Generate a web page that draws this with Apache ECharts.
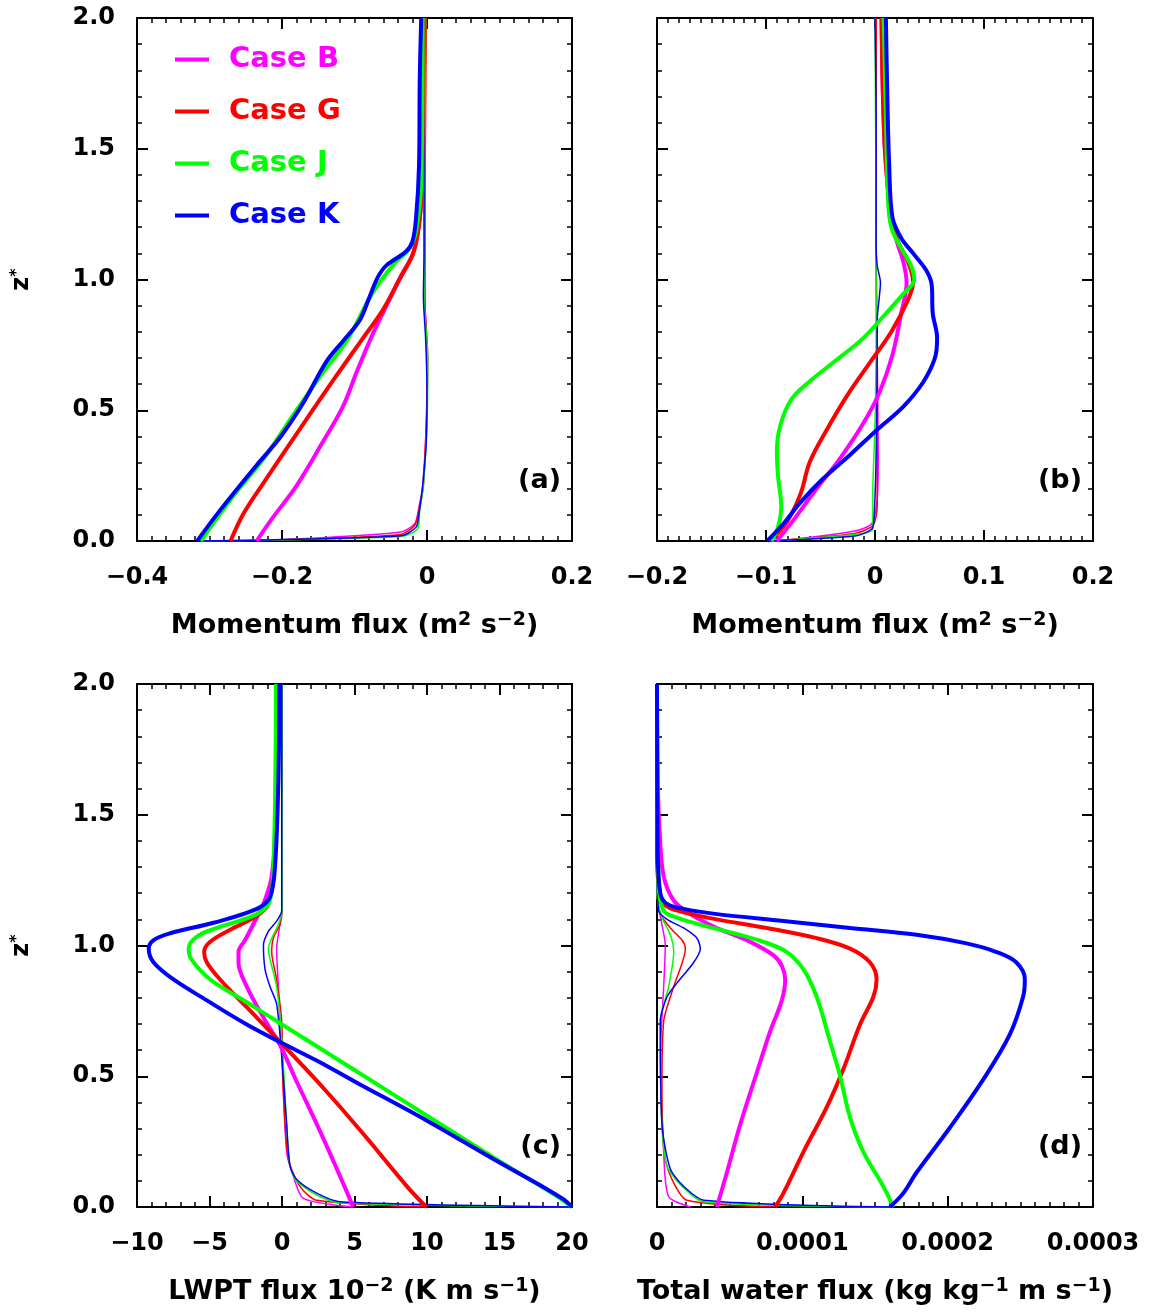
<!DOCTYPE html>
<html>
<head>
<meta charset="utf-8">
<title>Flux profiles</title>
<script src="https://cdn.jsdelivr.net/npm/echarts@6/dist/echarts.min.js"></script>
<style>
html, body { margin: 0; padding: 0; background: #fff; }
#chart { width: 1153px; height: 1316px; }
</style>
</head>
<body>
<div id="chart"></div>
<script>
// each pair is [flux, z*]; "Thin" arrays are the thin companion lines
var caseNames = ['Case B', 'Case G', 'Case J', 'Case K'];
var caseColors = ['#ff00ff', '#ff0000', '#00ff00', '#0000ff'];

// (a) momentum flux
var aB = [[-0.235,0],[-0.212,0.092],[-0.18,0.211],[-0.143,0.382],[-0.116,0.514],[-0.097,0.646],[-0.075,0.79],[-0.052,0.922],[-0.033,1.028],[-0.020,1.094],[-0.013,1.172],[-0.008,1.304],[-0.006,1.634],[-0.005,2]];
var aG = [[-0.271,0],[-0.253,0.105],[-0.225,0.224],[-0.193,0.356],[-0.161,0.487],[-0.125,0.632],[-0.088,0.777],[-0.061,0.883],[-0.038,1.001],[-0.020,1.094],[-0.013,1.172],[-0.008,1.304],[-0.006,1.634],[-0.005,2]];
var aJ = [[-0.312,0],[-0.271,0.158],[-0.225,0.316],[-0.18,0.5],[-0.143,0.646],[-0.111,0.764],[-0.075,0.949],[-0.047,1.054],[-0.024,1.12],[-0.015,1.186],[-0.008,1.37],[-0.006,2]];
var aK = [[-0.317,0],[-0.285,0.119],[-0.235,0.29],[-0.203,0.395],[-0.171,0.527],[-0.139,0.685],[-0.116,0.764],[-0.093,0.843],[-0.079,0.935],[-0.068,1.008],[-0.056,1.054],[-0.029,1.107],[-0.020,1.146],[-0.015,1.238],[-0.011,1.436],[-0.010,1.765],[-0.008,2]];
var aBThin = [[-0.235,0],[-0.038,0.033],[-0.017,0.066],[-0.011,0.132],[-0.006,0.211],[-0.001,0.45],[0,0.7],[-0.003,0.93],[-0.003,1.24],[-0.003,1.6],[-0.002,2]];
var aGThin = [[-0.271,0],[-0.038,0.024],[-0.017,0.059],[-0.011,0.119],[-0.005,0.211],[-0.001,0.45],[0.001,0.7],[-0.003,0.93],[-0.003,1.24],[-0.002,1.6],[-0.001,2]];
var aJThin = [[-0.312,0],[-0.036,0.017],[-0.013,0.046],[-0.010,0.12],[-0.005,0.211],[0,0.45],[0.001,0.7],[-0.004,0.93],[-0.004,1.24],[-0.003,1.6],[-0.002,2]];
var aKThin = [[-0.317,0],[-0.036,0.02],[-0.015,0.053],[-0.011,0.105],[-0.006,0.21],[-0.001,0.38],[0,0.58],[-0.002,0.78],[-0.005,0.935],[-0.004,1.107],[-0.004,1.5],[-0.003,2]];

// (b) momentum flux, other component
var bB = [[-0.090,0],[-0.075,0.079],[-0.054,0.198],[-0.032,0.316],[-0.011,0.448],[0.004,0.567],[0.016,0.711],[0.024,0.87],[0.029,0.988],[0.026,1.067],[0.020,1.146],[0.015,1.238],[0.009,1.502],[0.006,2]];
var bG = [[-0.096,0],[-0.080,0.079],[-0.068,0.184],[-0.060,0.3],[-0.045,0.42],[-0.025,0.56],[-0.005,0.68],[0.015,0.8],[0.030,0.92],[0.035,0.99],[0.030,1.07],[0.021,1.146],[0.015,1.238],[0.009,1.502],[0.006,2]];
var bJ = [[-0.095,0],[-0.089,0.053],[-0.086,0.132],[-0.089,0.25],[-0.090,0.343],[-0.087,0.44],[-0.077,0.54],[-0.060,0.61],[-0.036,0.69],[-0.011,0.775],[0.010,0.87],[0.026,0.945],[0.036,1.0],[0.033,1.054],[0.024,1.12],[0.015,1.199],[0.012,1.304],[0.010,1.634],[0.008,2]];
var bK = [[-0.099,0],[-0.084,0.066],[-0.069,0.145],[-0.048,0.237],[-0.023,0.329],[0.001,0.422],[0.026,0.514],[0.044,0.606],[0.055,0.7],[0.057,0.777],[0.053,0.87],[0.052,0.98],[0.047,1.035],[0.035,1.1],[0.024,1.159],[0.016,1.238],[0.013,1.436],[0.011,1.765],[0.010,2]];
var bBThin = [[-0.090,0],[-0.020,0.037],[-0.003,0.066],[0.002,0.158],[0.003,0.316],[0.002,0.711],[0.001,1.107],[0.001,2]];
var bGThin = [[-0.096,0],[-0.019,0.029],[-0.002,0.059],[0.002,0.132],[0.002,0.316],[0.002,0.711],[0.001,1.107],[0.001,2]];
var bJThin = [[-0.095,0],[-0.017,0.026],[-0.002,0.046],[-0.002,0.184],[0,0.448],[0.001,0.777],[0.001,1.107],[0,2]];
var bKThin = [[-0.099,0],[-0.017,0.02],[-0.003,0.046],[-0.001,0.079],[0.001,0.316],[0.002,0.711],[0.002,0.843],[0.004,0.935],[0.005,0.988],[0.002,1.054],[0.001,1.133],[0.001,1.634],[0,2]];

// (c) LWPT flux, units of 1e-2 K m/s
var cB = [[4.91,0],[4.3,0.08],[2.62,0.29],[1.01,0.48],[-0.14,0.619],[-1.28,0.725],[-2.43,0.843],[-3.0,0.935],[-3.0,0.975],[-2.54,1.021],[-1.74,1.107],[-1.28,1.159],[-0.71,1.265],[-0.41,1.502],[-0.32,2]];
var cG = [[9.95,0],[8.6,0.08],[5.6,0.28],[2.85,0.455],[-0.14,0.632],[-2.43,0.764],[-4.27,0.87],[-5.18,0.935],[-5.37,0.975],[-4.95,1.014],[-3.58,1.06],[-1.74,1.113],[-0.94,1.159],[-0.55,1.304],[-0.37,2]];
var cJ = [[20,0],[19,0.04],[15,0.175],[10,0.349],[5,0.524],[0,0.698],[-2.43,0.783],[-4.95,0.87],[-6.22,0.945],[-6.44,0.988],[-5.87,1.034],[-4.5,1.067],[-1.74,1.12],[-0.83,1.173],[-0.55,1.37],[-0.41,2]];
var cK = [[20,0],[19.4,0.03],[17.75,0.085],[15,0.17],[10,0.33],[5,0.48],[2.39,0.56],[0,0.627],[-2.43,0.698],[-5.18,0.79],[-7.48,0.87],[-8.85,0.935],[-9.19,0.988],[-8.85,1.021],[-7.71,1.047],[-4.72,1.087],[-1.74,1.14],[-0.83,1.186],[-0.48,1.304],[-0.25,1.634],[-0.18,2]];
var cBThin = [[4.91,0],[1.47,0.033],[0.78,0.119],[0.32,0.211],[-0.02,0.579],[-0.25,0.843],[-0.37,0.988],[-0.14,1.08],[0,1.133],[0,2]];
var cGThin = [[9.95,0],[2.39,0.026],[1.24,0.079],[0.44,0.184],[0.09,0.448],[-0.02,0.711],[-0.37,0.87],[-0.71,0.975],[-0.6,1.028],[-0.14,1.08],[0,1.133],[0,2]];
var cJThin = [[20,0],[3.99,0.016],[2.39,0.046],[1.01,0.099],[0.55,0.158],[0.32,0.316],[-0.02,0.646],[-0.37,0.843],[-0.83,0.949],[-0.94,0.988],[-0.71,1.028],[-0.25,1.08],[0,1.133],[0,2]];
var cKThin = [[20,0],[3.99,0.02],[2.39,0.053],[1.01,0.105],[0.55,0.158],[0.32,0.316],[-0.02,0.579],[-0.37,0.777],[-0.83,0.843],[-1.17,0.909],[-1.28,1.001],[-0.94,1.054],[-0.37,1.093],[-0.02,1.133],[-0.02,2]];

// (d) total water flux, kg/kg m/s
var dB = [[0.412e-4,0],[0.481e-4,0.132],[0.573e-4,0.316],[0.687e-4,0.514],[0.779e-4,0.672],[0.859e-4,0.79],[0.882e-4,0.87],[0.859e-4,0.922],[0.802e-4,0.962],[0.641e-4,1.014],[0.412e-4,1.067],[0.229e-4,1.12],[0.115e-4,1.172],[0.046e-4,1.265],[0.018e-4,1.436],[0.005e-4,1.634],[0,2]];
var dG = [[0.813e-4,0],[0.870e-4,0.053],[1.008e-4,0.211],[1.168e-4,0.382],[1.282e-4,0.527],[1.397e-4,0.698],[1.489e-4,0.804],[1.511e-4,0.87],[1.466e-4,0.935],[1.328e-4,0.988],[1.099e-4,1.028],[0.756e-4,1.067],[0.412e-4,1.1],[0.183e-4,1.127],[0.046e-4,1.159],[0.011e-4,1.238],[0,1.344],[0,2]];
var dJ = [[1.626e-4,0],[1.557e-4,0.079],[1.42e-4,0.211],[1.328e-4,0.343],[1.26e-4,0.5],[1.191e-4,0.632],[1.099e-4,0.804],[1.008e-4,0.909],[0.893e-4,0.975],[0.733e-4,1.014],[0.527e-4,1.047],[0.298e-4,1.08],[0.137e-4,1.107],[0.046e-4,1.133],[0.011e-4,1.238],[0,2]];
var dK = [[1.603e-4,0],[1.695e-4,0.053],[1.786e-4,0.132],[2.015e-4,0.303],[2.244e-4,0.487],[2.427e-4,0.659],[2.519e-4,0.804],[2.531e-4,0.87],[2.473e-4,0.935],[2.336e-4,0.975],[2.13e-4,1.008],[1.786e-4,1.041],[1.328e-4,1.067],[0.870e-4,1.094],[0.412e-4,1.12],[0.183e-4,1.14],[0.069e-4,1.159],[0.023e-4,1.199],[0.005e-4,1.37],[0,2]];
var dBThin = [[0.229e-4,0],[0.08e-4,0.04],[0.046e-4,0.211],[0.023e-4,0.579],[0.046e-4,0.843],[0.057e-4,1.001],[0.034e-4,1.08],[0.005e-4,1.172],[0,2]];
var dGThin = [[0.813e-4,0],[0.206e-4,0.026],[0.115e-4,0.092],[0.057e-4,0.184],[0.034e-4,0.448],[0.046e-4,0.711],[0.115e-4,0.843],[0.195e-4,0.988],[0.172e-4,1.021],[0.092e-4,1.067],[0.023e-4,1.12],[0,1.2],[0,2]];
var dJThin = [[1.626e-4,0],[0.321e-4,0.02],[0.160e-4,0.086],[0.069e-4,0.158],[0.034e-4,0.316],[0.023e-4,0.711],[0.08e-4,0.843],[0.115e-4,0.975],[0.092e-4,1.041],[0.034e-4,1.107],[0,1.2],[0,2]];
var dKThin = [[1.603e-4,0],[0.321e-4,0.026],[0.183e-4,0.079],[0.092e-4,0.145],[0.034e-4,0.316],[0.023e-4,0.711],[0.069e-4,0.804],[0.137e-4,0.856],[0.252e-4,0.935],[0.298e-4,0.988],[0.275e-4,1.028],[0.183e-4,1.067],[0.069e-4,1.1],[0.011e-4,1.133],[0,1.37],[0,2]];

var panelLabels = ['(a)', '(b)', '(c)', '(d)'];
var xTitles = [
	'{t|Momentum flux (m}{s|2}{t| s}{s|\u22122}{t|)}',
	'{t|Momentum flux (m}{s|2}{t| s}{s|\u22122}{t|)}',
	'{t|LWPT flux 10}{s|\u22122}{t| (K m s}{s|\u22121}{t|)}',
	'{t|Total water flux (kg kg}{s|\u22121}{t| m s}{s|\u22121}{t|)}'
];
// min, max, major step, minor step, decimals of the tick labels
var xRanges = [[-0.4, 0.2, 0.2, 0.02, 1], [-0.2, 0.2, 0.1, 0.01, 1], [-10, 20, 5, 1, 0], [0, 0.0003, 0.0001, 0.00001, 4]];
var yRange = [0, 2, 0.5, 0.1];

var FONT = 'DejaVu Sans';
var grids = [
	{left: 137, top: 18, width: 435, height: 523},
	{left: 657, top: 18, width: 436, height: 523},
	{left: 137, top: 684, width: 435, height: 523},
	{left: 657, top: 684, width: 436, height: 523}
];

function signed(v, digits){
	if (Math.abs(v) < 1e-12) return '0';
	var s = Math.abs(v).toFixed(digits);
	return v < 0 ? '\u2212' + s : s;
}

var titleRich = {
	t : {fontFamily: FONT, fontWeight: 'bold', fontSize: 27, color: '#000', lineHeight: 28, verticalAlign: 'bottom'},
	s : {fontFamily: FONT, fontWeight: 'bold', fontSize: 19, color: '#000', lineHeight: 20, verticalAlign: 'top', padding: [0, 0, 28, 0]}
};

// one axis of a panel; major axes carry line and labels, minor ones only short ticks
function makeAxis(gridIndex, min, max, step, major, position){
	return {
		gridIndex: gridIndex, type: 'value', min: min, max: max, interval: step,
		position: position,
		axisLine: {show: major, onZero: false, lineStyle: {color: '#000', width: 2}},
		axisTick: {show: true, inside: true, length: major ? 11 : 5, lineStyle: {color: '#000', width: major ? 2 : 1.5}},
		axisLabel: {show: false},
		splitLine: {show: false}
	};
}

var xAxes = [], yAxes = [], series = [], graphics = [];

grids.forEach(function(g, i){
	var r = xRanges[i];
	var showY = (i % 2 === 0);

	var xb = makeAxis(i, r[0], r[1], r[2], true, 'bottom');
	xb.axisLabel = {
		show: true, margin: 25, showMinLabel: true, showMaxLabel: true,
		fontFamily: FONT, fontWeight: 'bold', fontSize: 24, color: '#000',
		formatter: (function(d){ return function(v){ return signed(v, d); }; })(r[4])
	};
	xb.name = xTitles[i];
	xb.nameLocation = 'middle';
	xb.nameGap = 70;
	xb.nameMoveOverlap = false;
	xb.nameTextStyle = {rich: titleRich};
	xAxes.push(xb);
	xAxes.push(makeAxis(i, r[0], r[1], r[2], true, 'top'));
	xAxes.push(makeAxis(i, r[0], r[1], r[3], false, 'bottom'));
	xAxes.push(makeAxis(i, r[0], r[1], r[3], false, 'top'));

	var yl = makeAxis(i, yRange[0], yRange[1], yRange[2], true, 'left');
	yl.axisLabel = {
		show: showY, margin: 22, showMinLabel: true, showMaxLabel: true,
		fontFamily: FONT, fontWeight: 'bold', fontSize: 24, color: '#000',
		formatter: function(v){ return v.toFixed(1); }
	};
	if (showY){
		yl.name = 'z{s|*}';
		yl.nameLocation = 'middle';
		yl.nameRotate = 90;
		yl.nameGap = 102;
		yl.nameMoveOverlap = false;
		yl.nameTextStyle = {fontFamily: FONT, fontWeight: 'bold', fontSize: 24, color: '#000',
			rich: {s: {fontFamily: FONT, fontWeight: 'bold', fontSize: 16, color: '#000', padding: [0, 0, 10, 0]}}};
	}
	yAxes.push(yl);
	yAxes.push(makeAxis(i, yRange[0], yRange[1], yRange[2], true, 'right'));
	yAxes.push(makeAxis(i, yRange[0], yRange[1], yRange[3], false, 'left'));
	yAxes.push(makeAxis(i, yRange[0], yRange[1], yRange[3], false, 'right'));

	graphics.push({
		type: 'text', x: g.left + g.width - 11, y: g.top + 463,
		style: {text: panelLabels[i], font: 'bold 27px "DejaVu Sans"', fill: '#000', align: 'right', verticalAlign: 'middle'}
	});
});

var thick = [[aB, aG, aJ, aK], [bB, bG, bJ, bK], [cB, cG, cJ, cK], [dB, dG, dJ, dK]];
var thin = [[aBThin, aGThin, aJThin, aKThin], [bBThin, bGThin, bJThin, bKThin], [cBThin, cGThin, cJThin, cKThin], [dBThin, dGThin, dJThin, dKThin]];

function lineSeries(name, data, panel, color, width, smooth){
	return {
		name: name, type: 'line', data: data,
		xAxisIndex: panel * 4, yAxisIndex: panel * 4,
		symbol: 'none', showSymbol: false, smooth: smooth,
		color: color,
		itemStyle: {color: color},
		lineStyle: {color: color, width: width},
		emphasis: {disabled: true}
	};
}

for (var p = 0; p < 4; p++){
	for (var k = 0; k < 4; k++){
		series.push(lineSeries(caseNames[k] + ' thin', thin[p][k], p, caseColors[k], 1.5, 0.25));
	}
	for (var k2 = 0; k2 < 4; k2++){
		series.push(lineSeries(caseNames[k2], thick[p][k2], p, caseColors[k2], 4, 0.35));
	}
}

var myChart = echarts.init(document.getElementById('chart'), null, {renderer: 'canvas'});
myChart.setOption({
	animation: false,
	backgroundColor: '#fff',
	grid: grids.map(function(g){ return Object.assign({outerBoundsMode: 'none'}, g); }),
	xAxis: xAxes,
	yAxis: yAxes,
	legend: {
		orient: 'vertical', left: 170, top: 40,
		itemWidth: 34, itemHeight: 4, itemGap: 23, icon: 'rect',
		itemStyle: {borderWidth: 0},
		selectedMode: false,
		textStyle: {fontFamily: FONT, fontWeight: 'bold', fontSize: 29, padding: [0, 0, 0, 15]},
		data: caseNames.map(function(n, i){
			return {name: n, textStyle: {color: caseColors[i]}};
		})
	},
	graphic: graphics,
	series: series
});
</script>
</body>
</html>
